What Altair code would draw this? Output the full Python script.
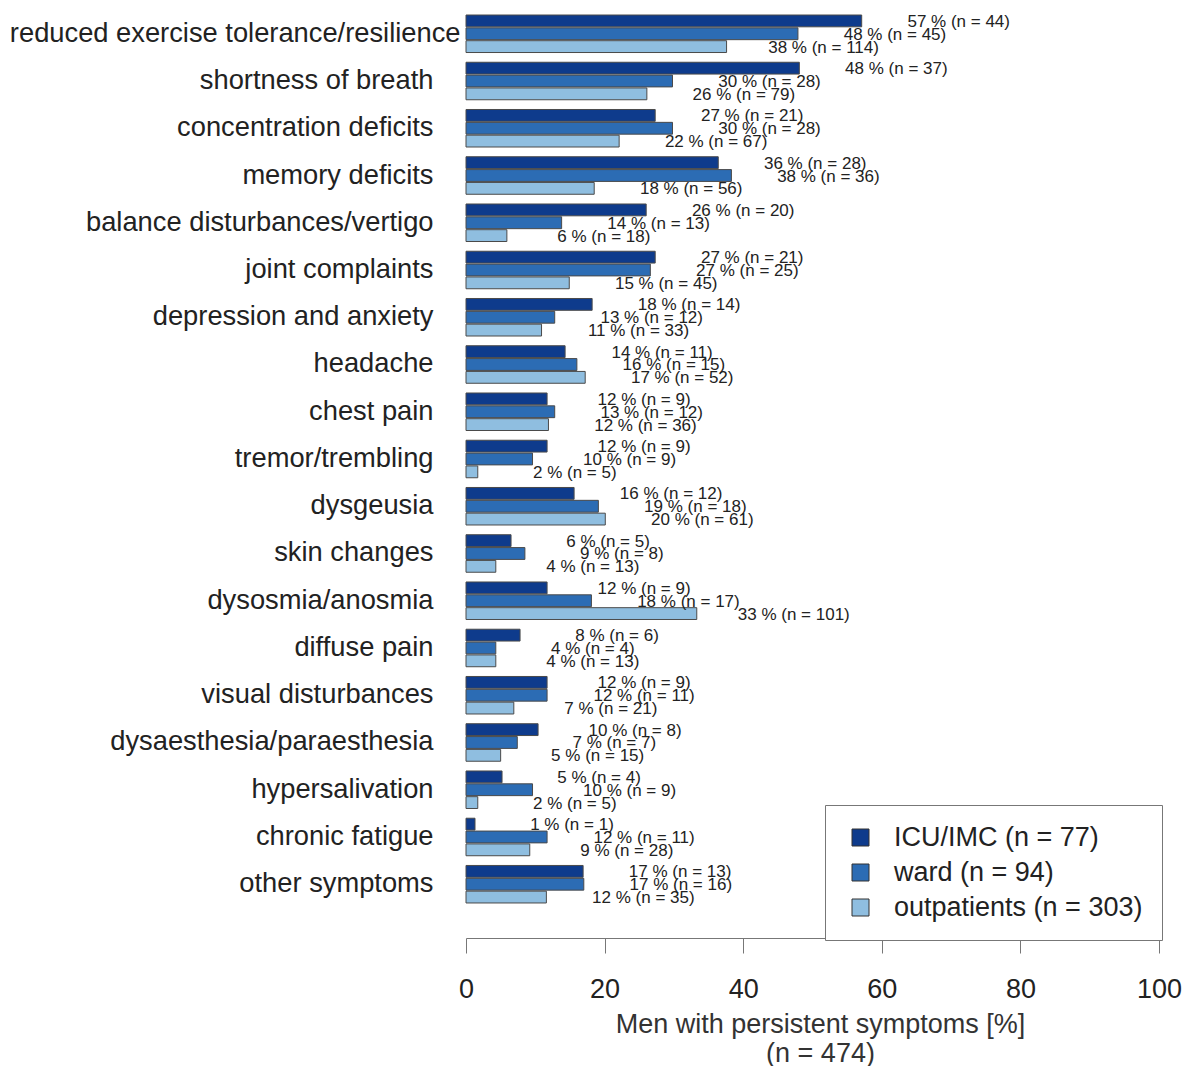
import altair as alt
import pandas as pd

symptoms = [
    "reduced exercise tolerance/resilience", "shortness of breath", "concentration deficits",
    "memory deficits", "balance disturbances/vertigo", "joint complaints", "depression and anxiety",
    "headache", "chest pain", "tremor/trembling", "dysgeusia", "skin changes", "dysosmia/anosmia",
    "diffuse pain", "visual disturbances", "dysaesthesia/paraesthesia", "hypersalivation",
    "chronic fatigue", "other symptoms",
]
groups = ["ICU/IMC (n = 77)", "ward (n = 94)", "outpatients (n = 303)"]
colors = ["#0e3b8c", "#2c6cb4", "#8fbee0"]

icu_val = [57.1, 48.1, 27.3, 36.4, 26.0, 27.3, 18.2, 14.3, 11.7, 11.7, 15.6, 6.5, 11.7, 7.8, 11.7, 10.4, 5.2, 1.3, 16.9]
icu_pct = [57, 48, 27, 36, 26, 27, 18, 14, 12, 12, 16, 6, 12, 8, 12, 10, 5, 1, 17]
icu_n = [44, 37, 21, 28, 20, 21, 14, 11, 9, 9, 12, 5, 9, 6, 9, 8, 4, 1, 13]

ward_val = [47.9, 29.8, 29.8, 38.3, 13.8, 26.6, 12.8, 16.0, 12.8, 9.6, 19.1, 8.5, 18.1, 4.3, 11.7, 7.4, 9.6, 11.7, 17.0]
ward_pct = [48, 30, 30, 38, 14, 27, 13, 16, 13, 10, 19, 9, 18, 4, 12, 7, 10, 12, 17]
ward_n = [45, 28, 28, 36, 13, 25, 12, 15, 12, 9, 18, 8, 17, 4, 11, 7, 9, 11, 16]

out_val = [37.6, 26.1, 22.1, 18.5, 5.9, 14.9, 10.9, 17.2, 11.9, 1.7, 20.1, 4.3, 33.3, 4.3, 6.9, 5.0, 1.7, 9.2, 11.6]
out_pct = [38, 26, 22, 18, 6, 15, 11, 17, 12, 2, 20, 4, 33, 4, 7, 5, 2, 9, 12]
out_n = [114, 79, 67, 56, 18, 45, 33, 52, 36, 5, 61, 13, 101, 13, 21, 15, 5, 28, 35]

x_ticks = [0, 20, 40, 60, 80, 100]

rows = []
for g, vals, pcts, ns in zip(groups, [icu_val, ward_val, out_val], [icu_pct, ward_pct, out_pct], [icu_n, ward_n, out_n]):
    for s, v, p, n in zip(symptoms, vals, pcts, ns):
        rows.append({"symptom": s, "group": g, "value": v, "label": f"{p} % (n = {n})"})
df = pd.DataFrame(rows)

FONT = "Liberation Sans"

y_enc = alt.Y(
    "symptom:N", sort=symptoms, title=None,
    scale=alt.Scale(paddingInner=0.206, paddingOuter=0.4235, align=0.125),
    axis=alt.Axis(
        domain=False, ticks=False, labelFontSize=27.3, labelColor="#222", labelLimit=0,
        labelPadding={"condition": {"test": "datum.value === 'reduced exercise tolerance/resilience'", "value": 6}, "value": 33},
    ),
)
yoff_enc = alt.YOffset("group:N", sort=groups, scale=alt.Scale(paddingInner=0.08, paddingOuter=0))
x_enc = alt.X(
    "value:Q",
    scale=alt.Scale(domain=[0, 100], nice=False),
    axis=alt.Axis(
        values=x_ticks, tickSize=15, grid=False, labelFontSize=27, labelPadding=23, labelFlush=False,
        labelColor="#222", domainColor="#777", tickColor="#777",
        title=["Men with persistent symptoms [%]", "(n = 474)"], titleFontSize=27, titleFontWeight="normal",
        titleColor="#333", titlePadding=9, titleLineHeight=29, titleX=354, titleAlign="center",
    ),
)

bars = alt.Chart(df).mark_bar(stroke="#4a4a4a", strokeWidth=1).encode(
    y=y_enc, yOffset=yoff_enc, x=x_enc,
    color=alt.Color(
        "group:N", sort=groups, scale=alt.Scale(domain=groups, range=colors),
        legend=alt.Legend(
            title=None, orient="none", legendX=359, legendY=795, padding=19, symbolOffset=3,
            strokeColor="#777", fillColor="white", symbolType="square", symbolSize=289,
            symbolStrokeColor="#333", symbolStrokeWidth=1, labelFontSize=27, labelOffset=20,
            rowPadding=7, labelColor="#222", labelLimit=0, symbolOpacity=1,
        ),
    ),
)

texts = alt.Chart(df).mark_text(align="center", baseline="middle", dx=97, dy=1, fontSize=17, color="#222").encode(
    y=alt.Y("symptom:N", sort=symptoms), yOffset=alt.YOffset("group:N", sort=groups), x="value:Q", text="label:N",
)

chart = alt.layer(bars, texts).properties(
    width=693, height=928, autosize="none",
    padding={"left": 458, "top": 2, "right": 23, "bottom": 128},
).configure(font=FONT).configure_view(stroke=None)

chart.save("out.html", embed_options={"renderer": "svg", "actions": False})
